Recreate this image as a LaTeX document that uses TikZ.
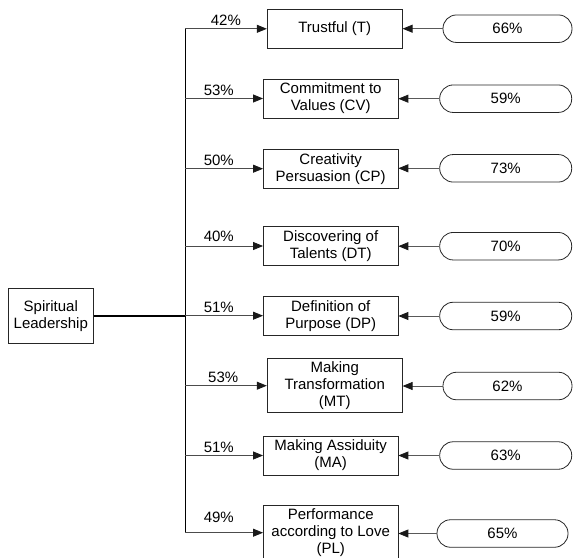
\documentclass[tikz,border=0pt]{standalone}
\usepackage{fontspec}
\setmainfont{Liberation Sans}
\usetikzlibrary{arrows.meta}
\begin{document}
\begin{tikzpicture}[x=1pt,y=-1pt,
  every node/.style={font=\fontsize{15}{17}\selectfont},
  factor/.style={draw=black!85, line width=0.8pt, align=center, inner sep=0pt,
    minimum width=134.5pt, minimum height=39pt},
  score/.style={draw=black!85, line width=0.8pt, rounded corners=13.5pt, inner sep=0pt,
    minimum width=132pt, minimum height=27.5pt},
  tip/.style={-{Triangle[length=10pt,width=8pt,color=black!90]}},
  branch/.style={line width=0.8pt, draw=black!70, tip},
  feed/.style={line width=0.8pt, draw=black!65, tip},
  pct/.style={anchor=base, inner sep=0pt}]
\useasboundingbox (0,0) rectangle (573,557);

% root
\node[factor, minimum width=85pt, minimum height=55pt] (SL) at (50.8,315.8) {Spiritual\\Leadership};

% factors
\node[factor, minimum width=135pt] (T) at (334.7,28.8) {Trustful (T)};
\node[factor] (CV) at (330.7,98.5) {Commitment to\\Values (CV)};
\node[factor] (CP) at (330.7,168.7) {Creativity\\Persuasion (CP)};
\node[factor] (DT) at (330.7,246) {Discovering of\\Talents (DT)};
\node[factor] (DP) at (330.7,315.7) {Definition of\\Purpose (DP)};
\node[factor, minimum width=135pt, minimum height=54pt] (MT) at (334.7,385.7) {Making\\Transformation\\(MT)};
\node[factor] (MA) at (330.7,455.5) {Making Assiduity\\(MA)};
\node[factor, minimum height=55pt] (PL) at (330.7,532.7) {Performance\\according to Love\\(PL)};

% scores
\node[score, minimum width=129pt] (sT) at (507.5,28.7) {66\%};
\node[score] (sCV) at (505.7,98.7) {59\%};
\node[score] (sCP) at (505.7,168.3) {73\%};
\node[score] (sDT) at (505.7,246.2) {70\%};
\node[score] (sDP) at (505.7,316) {59\%};
\node[score, minimum width=129pt] (sMT) at (507.5,386) {62\%};
\node[score] (sMA) at (505.7,455.5) {63\%};
\node[score, minimum width=131pt] (sPL) at (502.5,533.5) {65\%};

% trunk
\coordinate (trunk) at (185,0);
\draw[line width=0.9pt] (trunk |- T.west) -- (trunk |- PL.west);
\draw[line width=2pt] (SL.east) -- (trunk |- SL.east);

% branches with loadings
\draw[branch] (trunk |- T.west) -- node[pct, pos=0.5, yshift=3pt] {42\%} (T.west);
\draw[branch] (trunk |- CV.west) -- node[pct, pos=0.433, yshift=3pt] {53\%} (CV.west);
\draw[branch] (trunk |- CP.west) -- node[pct, pos=0.433, yshift=3pt] {50\%} (CP.west);
\draw[branch] (trunk |- DT.west) -- node[pct, pos=0.433, yshift=5pt] {40\%} (DT.west);
\draw[branch] (trunk |- DP.west) -- node[pct, pos=0.433, yshift=3pt] {51\%} (DP.west);
\draw[branch] (trunk |- MT.west) -- node[pct, pos=0.467, yshift=3pt] {53\%} (MT.west);
\draw[branch] (trunk |- MA.west) -- node[pct, pos=0.433, yshift=3pt] {51\%} (MA.west);
\draw[branch] (trunk |- PL.west) -- node[pct, pos=0.433, yshift=10.5pt] {49\%} (PL.west);

% scores into factors
\foreach \f in {T,CV,CP,DT,DP,MT,MA,PL}
  \draw[feed] (s\f.west) -- (\f.east |- s\f.west);
\end{tikzpicture}
\end{document}
